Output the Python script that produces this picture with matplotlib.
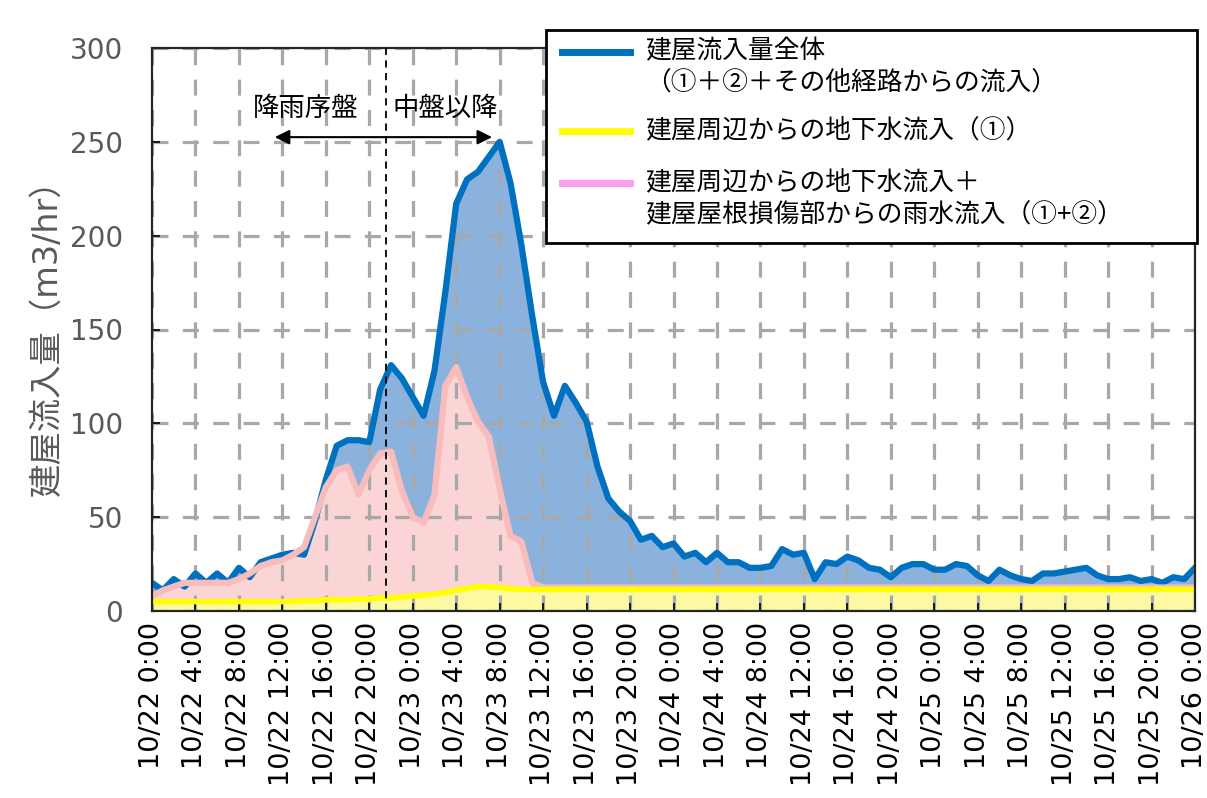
import matplotlib
matplotlib.use('Agg')
import matplotlib.pyplot as plt
from matplotlib.lines import Line2D
from matplotlib.patches import Rectangle

plt.rcParams['font.family'] = ['Noto Sans CJK JP', 'DejaVu Sans']

# ---------------- data ----------------
hours = list(range(97))  # hourly, 10/22 0:00 .. 10/26 0:00

total_inflow = [
    15, 11, 17, 13, 20, 15, 20, 15, 23, 18,
    26, 28, 30, 31, 30, 48, 70, 88, 91, 91,
    90, 118, 131, 124, 114, 104, 128, 170, 217, 230,
    234, 242, 250, 228, 195, 157, 122, 104, 120, 111,
    101, 77, 60, 53, 48, 38, 40, 34, 36, 29,
    31, 26, 31, 26, 26, 23, 23, 24, 33, 30,
    31, 17, 26, 25, 29, 27, 23, 22, 18, 23,
    25, 25, 22, 22, 25, 24, 19, 16, 22, 19,
    17, 16, 20, 20, 21, 22, 23, 19, 17, 17,
    18, 16, 17, 15, 18, 17, 23,
]

ground_plus_rain = [
    8, 11, 13, 15, 15, 15, 15, 15, 17, 20,
    24, 26, 27, 30, 34, 50, 66, 75, 77, 62,
    75, 84, 85, 64, 50, 47, 62, 120, 130, 114,
    101, 93, 65, 40, 37, 15, 12.5, 12.5, 12.5, 12.5,
    12.5, 12.5, 12.5, 12.5, 12.5, 12.5, 12.5, 12.5, 12.5, 12.5,
    12.5, 12.5, 12.5, 12.5, 12.5, 12.5, 12.5, 12.5, 12.5, 12.5,
    12.5, 12.5, 12.5, 12.5, 12.5, 12.5, 12.5, 12.5, 12.5, 12.5,
    12.5, 12.5, 12.5, 12.5, 12.5, 12.5, 12.5, 12.5, 12.5, 12.5,
    12.5, 12.5, 12.5, 12.5, 12.5, 12.5, 12.5, 12.5, 12.5, 12.5,
    12.5, 12.5, 12.5, 12.5, 12.5, 12.5, 12.5,
]

groundwater = [
    5, 5, 5, 5, 5, 5, 5, 5, 5, 5,
    5, 5, 5, 5, 5.5, 5.5, 6, 6, 6, 6.5,
    6.5, 7, 7, 7.5, 8, 8.5, 9, 10, 11, 12,
    13, 13, 12.5, 12, 11.5, 11.5, 11.5, 11.5, 11.5, 11.5,
    11.5, 11.5, 11.5, 11.5, 11.5, 11.5, 11.5, 11.5, 11.5, 11.5,
    11.5, 11.5, 11.5, 11.5, 11.5, 11.5, 11.5, 11.5, 11.5, 11.5,
    11.5, 11.5, 11.5, 11.5, 11.5, 11.5, 11.5, 11.5, 11.5, 11.5,
    11.5, 11.5, 11.5, 11.5, 11.5, 11.5, 11.5, 11.5, 11.5, 11.5,
    11.5, 11.5, 11.5, 11.5, 11.5, 11.5, 11.5, 11.5, 11.5, 11.5,
    11.5, 11.5, 11.5, 11.5, 11.5, 11.5, 11.5,
]

x_tick_hours = [0, 4, 8, 12, 16, 20, 24, 28, 32, 36, 40, 44, 48,
                52, 56, 60, 64, 68, 72, 76, 80, 84, 88, 92, 96]
x_tick_labels = [
    "10/22 0:00", "10/22 4:00", "10/22 8:00", "10/22 12:00", "10/22 16:00", "10/22 20:00",
    "10/23 0:00", "10/23 4:00", "10/23 8:00", "10/23 12:00", "10/23 16:00", "10/23 20:00",
    "10/24 0:00", "10/24 4:00", "10/24 8:00", "10/24 12:00", "10/24 16:00", "10/24 20:00",
    "10/25 0:00", "10/25 4:00", "10/25 8:00", "10/25 12:00", "10/25 16:00", "10/25 20:00",
    "10/26 0:00",
]
y_ticks = [0, 50, 100, 150, 200, 250, 300]

legend_labels = [
    "建屋流入量全体\n（①＋②＋その他経路からの流入）",
    "建屋周辺からの地下水流入（①）",
    "建屋周辺からの地下水流入＋\n建屋屋根損傷部からの雨水流入（①+②）",
]

# ---------------- figure ----------------
W, H = 1207, 798
fig = plt.figure(figsize=(W / 100, H / 100), dpi=100)
ax = fig.add_axes([152 / W, 1 - 611 / H, (1195 - 152) / W, (611 - 48) / H])

BLUE = '#0070c0'
BLUE_FILL = '#8ab2dc'
PINK_LINE = '#f8bcbc'
PINK_FILL = '#fbd5d5'
YEL_LINE = '#ffff00'
YEL_FILL = '#fcf9a2'
LEG_PINK = '#fa9ff0'

ax.fill_between(hours, 0, total_inflow, color=BLUE_FILL, lw=0, zorder=1)
ax.fill_between(hours, 0, ground_plus_rain, color=PINK_FILL, lw=0, zorder=1.1)
ax.fill_between(hours, 0, groundwater, color=YEL_FILL, lw=0, zorder=1.2)

ax.plot(hours, total_inflow, color=BLUE, lw=4.5, zorder=3, solid_joinstyle='round')
ax.plot(hours, ground_plus_rain, color=PINK_LINE, lw=4.5, zorder=3.1, solid_joinstyle='round')
ax.plot(hours, groundwater, color=YEL_LINE, lw=4, zorder=3.2, solid_joinstyle='round')

ax.set_xlim(0, 96)
ax.set_ylim(0, 300)
ax.set_xticks(x_tick_hours)
ax.set_xticklabels(x_tick_labels, rotation=90, fontsize=19.5, color='#000000',
                   family=['DejaVu Sans'])
ax.set_yticks(y_ticks)
ax.set_yticklabels([str(v) for v in y_ticks], fontsize=20, color='#595959',
                   family=['DejaVu Sans'])
ax.tick_params(axis='both', direction='in', length=6, width=1.2, color='#000000')
ax.tick_params(axis='x', pad=8)
ax.tick_params(axis='y', pad=21)

ax.set_axisbelow(False)
ax.grid(True, color='#a8a8a8', lw=2.3, linestyle=(0, (5, 4.5)))
for s in ax.spines.values():
    s.set_color('#262626')
    s.set_linewidth(1.6)
    s.set_zorder(5)

ax.set_ylabel("建屋流入量（m3/hr）", fontsize=24, color='#595959', labelpad=4,
              family=['DejaVu Sans', 'Noto Sans CJK JP'])

# phase divider and annotations
ax.axvline(21.5, color='black', lw=1.3, linestyle=(0, (4, 3)), zorder=6)
ax.annotate('', xy=(11.3, 252.5), xytext=(31.3, 252.5),
            arrowprops=dict(arrowstyle='<|-|>', color='black', lw=1.5,
                            mutation_scale=22, shrinkA=0, shrinkB=0), zorder=6)
ax.text(14.1, 268, "降雨序盤", fontsize=19, ha='center', va='center', zorder=6)
ax.text(27.0, 268, "中盤以降", fontsize=19, ha='center', va='center', zorder=6)

# ---------------- legend (manual, figure pixel coords) ----------------
def fx(px):
    return px / W

def fy(py):
    return 1 - py / H

fig.patches.append(Rectangle((fx(546), fy(243)), fx(1197) - fx(546), fy(30) - fy(243),
                             transform=fig.transFigure, facecolor='white',
                             edgecolor='black', lw=2, zorder=10))
handles = [(BLUE, 52, 51, 84), (YEL_LINE, 131, 131, None), (LEG_PINK, 183, 183, 215)]
for (col, ly, t1, t2), lab in zip(handles, legend_labels):
    fig.lines.append(Line2D([fx(562), fx(630)], [fy(ly), fy(ly)], transform=fig.transFigure,
                            color=col, lw=5, zorder=11))
    parts = lab.split('\n')
    fig.text(fx(645), fy(t1), parts[0], fontsize=18.5, ha='left', va='center', zorder=12)
    if t2 is not None:
        fig.text(fx(645), fy(t2), parts[1], fontsize=18.5, ha='left', va='center', zorder=12)

fig.savefig('out.png', dpi=100)
